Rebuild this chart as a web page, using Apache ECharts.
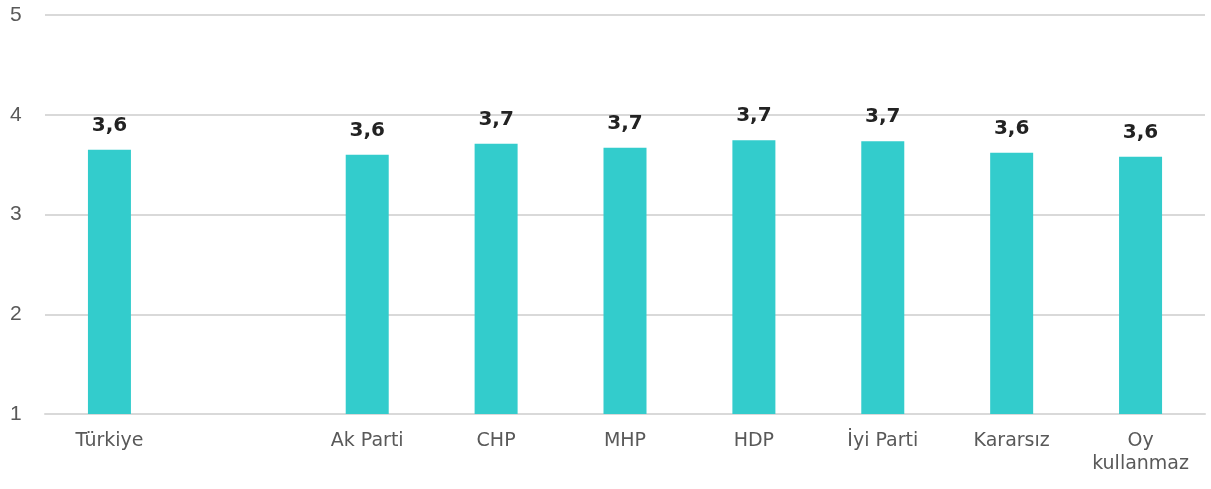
<!DOCTYPE html>
<html><head><meta charset="utf-8">
<script src="https://cdn.jsdelivr.net/npm/echarts@6/dist/echarts.min.js"></script>
<style>html,body{margin:0;padding:0;background:#fff}#c{width:1211px;height:489px}</style>
</head><body><div id="c"></div>
<script>
const categories = ['Türkiye', '', 'Ak Parti', 'CHP', 'MHP', 'HDP', 'İyi Parti', 'Kararsız', 'Oy\nkullanmaz'];
const values = [3.65, null, 3.6, 3.71, 3.67, 3.745, 3.735, 3.62, 3.58];
const yTicks = [1, 2, 3, 4, 5];

const chart = echarts.init(document.getElementById('c'));
chart.setOption({
  animation: false,
  grid: { left: 45, right: 6, top: 15, bottom: 75 },
  xAxis: {
    type: 'category',
    data: categories,
    axisLine: { lineStyle: { color: '#d9d9d9', width: 2 } },
    axisTick: { show: false },
    axisLabel: { color: '#595959', fontSize: 19, fontFamily: 'DejaVu Sans', margin: 16, lineHeight: 23, interval: 0 }
  },
  yAxis: {
    type: 'value',
    min: yTicks[0], max: yTicks[yTicks.length - 1], interval: 1,
    axisLine: { show: false },
    axisTick: { show: false },
    splitLine: { lineStyle: { color: '#d9d9d9', width: 2 } },
    axisLabel: { color: '#595959', fontSize: 21, fontFamily: 'Liberation Sans', margin: 35, align: 'left' }
  },
  series: [{
    type: 'bar',
    data: values,
    barWidth: 43,
    itemStyle: { color: '#33CCCC' },
    label: {
      show: true, position: 'top', distance: 14,
      color: '#222222', fontSize: 20, fontWeight: 'bold', fontFamily: 'DejaVu Sans',
      formatter: p => p.value == null ? '' : p.value.toFixed(1).replace('.', ',')
    }
  }]
});
</script></body></html>
